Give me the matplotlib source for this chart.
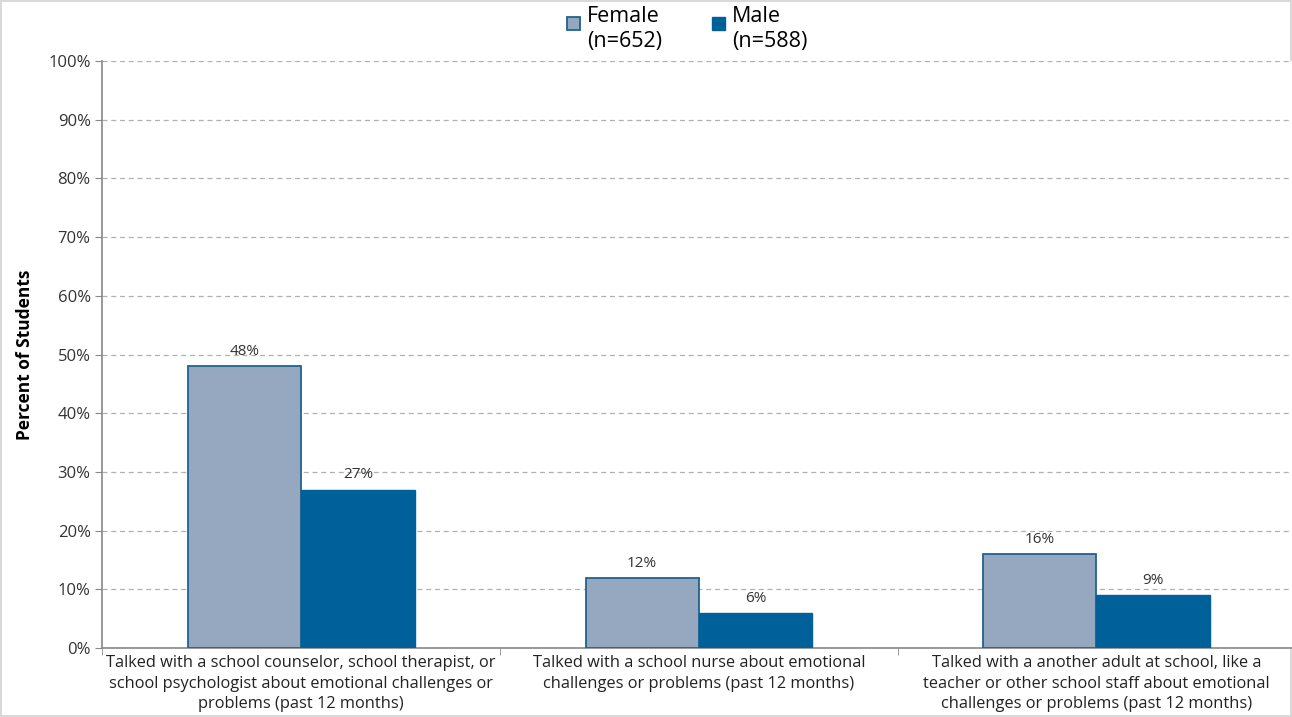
import matplotlib.pyplot as plt
import numpy as np
from matplotlib.patches import Rectangle
from matplotlib.container import BarContainer
from matplotlib.legend_handler import HandlerPatch, update_from_first_child
from matplotlib.ticker import PercentFormatter, FixedLocator

categories = [
    "Talked with a school counselor, school therapist, or\nschool psychologist about emotional challenges or\nproblems (past 12 months)",
    "Talked with a school nurse about emotional\nchallenges or problems (past 12 months)",
    "Talked with a another adult at school, like a\nteacher or other school staff about emotional\nchallenges or problems (past 12 months)",
]
female = [48, 12, 16]
male = [27, 6, 9]
series_labels = ["Female\n(n=652)", "Male\n(n=588)"]

plt.rcParams["font.family"] = ["Open Sans", "DejaVu Sans"]


def top_square(legend, orig_handle, xdescent, ydescent, width, height, fontsize):
    # square sitting beside the first line of a two-line label
    size = width
    return Rectangle((-xdescent, -ydescent + height - size * 1.45), size, size)


fig = plt.figure(figsize=(12.92, 7.17), dpi=100)
fig.patch.set_edgecolor("#d9d9d9")
fig.patch.set_linewidth(1.5)
ax = fig.add_axes([0.0793, 0.0962, 0.9207, 0.8187])

x = np.arange(len(categories))
w = 0.285
b1 = ax.bar(x - w / 2, female, w, color="#95a8bf", edgecolor="#1f6392", linewidth=1.3,
            label=series_labels[0], zorder=3)
b2 = ax.bar(x + w / 2, male, w, color="#00609a", edgecolor="#00609a", linewidth=1.0,
            label=series_labels[1], zorder=3)

for bars, vals in ((b1, female), (b2, male)):
    for rect, v in zip(bars, vals):
        ax.text(rect.get_x() + rect.get_width() / 2, v + 1.2, f"{v}%",
                ha="center", va="bottom", fontsize=11, color="#333333")

ax.set_xlim(-0.5, len(categories) - 0.508)
ax.set_ylim(0, 100)
ax.set_yticks(np.arange(0, 101, 10))
ax.yaxis.set_major_formatter(PercentFormatter(decimals=0))
ax.set_xticks(x)
ax.set_xticklabels(categories, fontsize=11.8, color="#222222", linespacing=1.38)
ax.xaxis.set_minor_locator(FixedLocator(np.arange(-0.5, len(categories), 1.0)))
ax.tick_params(axis="x", which="major", length=0, pad=5)
ax.tick_params(axis="x", which="minor", length=5, color="#888888", direction="out")
ax.tick_params(axis="y", length=5, color="#888888", labelsize=12, labelcolor="#333333")

ax.grid(axis="y", linestyle=(0, (4, 3)), color="#b0b0b0", linewidth=0.9, zorder=0)
ax.set_axisbelow(True)
for s in ("top", "right"):
    ax.spines[s].set_visible(False)
for s in ("left", "bottom"):
    ax.spines[s].set_color("#888888")
    ax.spines[s].set_linewidth(1.2)

ax.set_ylabel("Percent of Students", fontsize=12.5, fontweight="bold", labelpad=10)

handler = HandlerPatch(patch_func=top_square, update_func=update_from_first_child)
leg = fig.legend(loc="upper center", bbox_to_anchor=(0.532, 1.003), ncol=2, frameon=False,
                 fontsize=15.5, handlelength=0.6, handleheight=2.3, handletextpad=0.3,
                 columnspacing=2.35, borderaxespad=0,
                 handler_map={BarContainer: handler})

fig.savefig("out.png", dpi=100)
